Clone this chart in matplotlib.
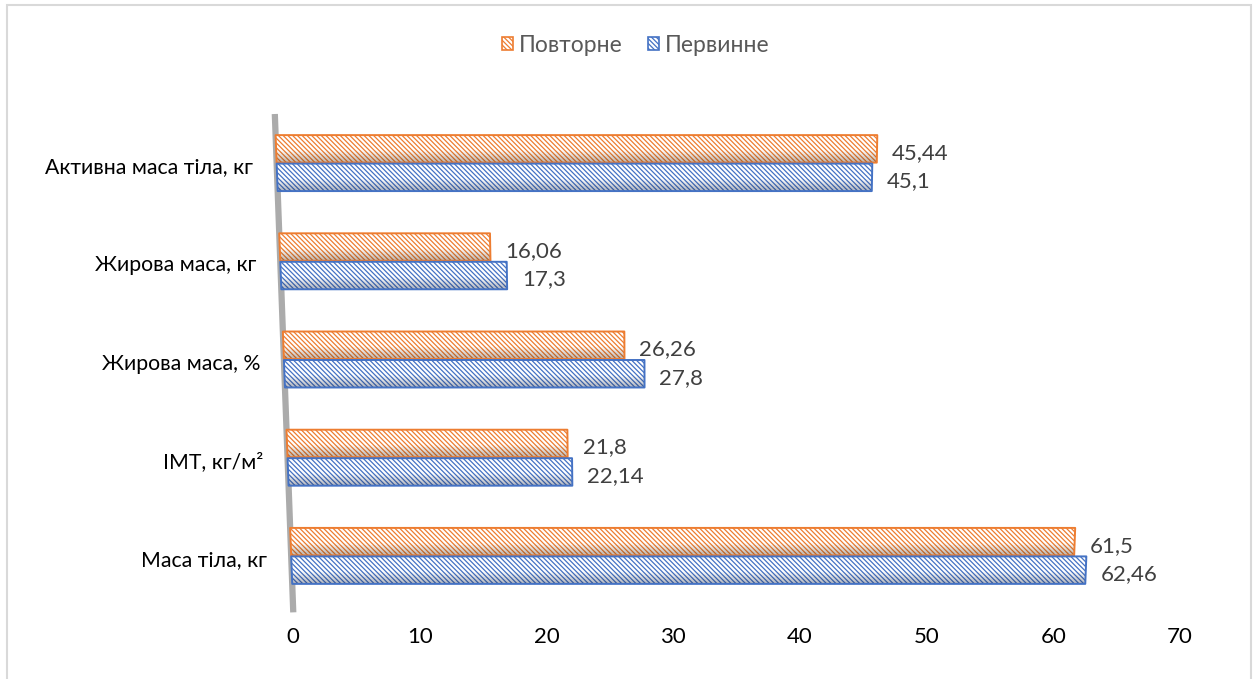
import numpy as np
import matplotlib
matplotlib.use("Agg")
import matplotlib.pyplot as plt
import matplotlib.transforms as mtransforms
from matplotlib.patches import Patch, Rectangle
from matplotlib.lines import Line2D

categories = ["Маса тіла, кг", "ІМТ, кг/м²", "Жирова маса, %", "Жирова маса, кг", "Активна маса тіла, кг"]
initial = [62.46, 22.14, 27.8, 17.3, 45.1]      # Первинне
repeat = [61.5, 21.8, 26.26, 16.06, 45.44]      # Повторне
initial_labels = ["62,46", "22,14", "27,8", "17,3", "45,1"]
repeat_labels = ["61,5", "21,8", "26,26", "16,06", "45,44"]
xticks = [0, 10, 20, 30, 40, 50, 60, 70]

ORANGE = "#ED7D31"
BLUE = "#4472C4"
FONT = "Lato"
HATCH = "\\" * 7

plt.rcParams["font.family"] = [FONT, "DejaVu Sans"]
plt.rcParams["hatch.linewidth"] = 0.9


class DepthWarp(mtransforms.Transform):
    """Perspective-like warp in axes fraction space: the back of the
    plot (top) is shifted left and slightly stretched."""
    input_dims = 2
    output_dims = 2
    is_separable = False
    has_inverse = False

    def __init__(self, shift_top, scale_top):
        super().__init__()
        self.shift_top = shift_top
        self.scale_top = scale_top

    def transform_non_affine(self, values):
        values = np.asarray(values, dtype=float)
        u, v = values[:, 0], values[:, 1]
        u2 = u * (1 + (self.scale_top - 1) * v) + self.shift_top * v
        return np.column_stack([u2, v])


fig = plt.figure(figsize=(12.56, 6.79), dpi=100)
ax = fig.add_axes([293 / 1256, 1 - 605 / 679, 887 / 1256, 491 / 679])
ax.set_xlim(0, 70)
ax.set_ylim(-0.5, len(categories) - 0.5)

warp = (ax.transData + ax.transAxes.inverted()
        + DepthWarp(-0.0205, 1.047) + ax.transAxes)
warp_axes = DepthWarp(-0.0205, 1.047) + ax.transAxes

# side wall
ax.add_line(Line2D([0.0, 0.0], [-0.015, 1.0], transform=warp_axes,
                   color="#ABABAB", lw=4.5, solid_capstyle="butt",
                   zorder=1, clip_on=False))

y = np.arange(len(categories))
h = 0.28
off = 0.145
n_strip = 16


def cylinder(ypos, values, color, shade):
    ax.barh(ypos, values, height=h, left=0, color="white", edgecolor=color,
            hatch=HATCH, linewidth=0, transform=warp, zorder=2,
            clip_on=False)
    # shading across the cylinder: light top, darker lower edge
    for k in range(n_strip):
        t = (k + 0.5) / n_strip            # 0 at bottom, 1 at top
        a = 0.38 * max(0.0, 0.45 - t) / 0.45
        if a <= 0.005:
            continue
        ax.barh(ypos - h / 2 + (k + 0.5) * h / n_strip, values,
                height=h / n_strip, left=0, color=shade, alpha=a,
                linewidth=0, transform=warp, zorder=3, clip_on=False)
    ax.barh(ypos, values, height=h, left=0, facecolor="none", edgecolor=color,
            linewidth=1.4, transform=warp, zorder=4, clip_on=False,
            joinstyle="round")


cylinder(y + off, repeat, ORANGE, "#4a2a12")
cylinder(y - off, initial, BLUE, "#1c2a4a")

for yi, v, lab in zip(y + off, repeat, repeat_labels):
    ax.annotate(lab, xy=(v, yi), xycoords=warp, xytext=(15, -4),
                textcoords="offset pixels", ha="left", va="center",
                fontsize=16, color="#404040")
for yi, v, lab in zip(y - off, initial, initial_labels):
    ax.annotate(lab, xy=(v, yi), xycoords=warp, xytext=(15, -4),
                textcoords="offset pixels", ha="left", va="center",
                fontsize=16, color="#404040")

for yi, cat in zip(y, categories):
    ax.annotate(cat, xy=(0, yi), xycoords=warp, xytext=(-24, -4),
                textcoords="offset pixels", ha="right", va="center",
                fontsize=15.3, color="black")

ax.set_yticks([])
ax.set_xticks(xticks)
ax.set_xticklabels([str(t) for t in xticks], fontsize=16, color="black")
ax.tick_params(axis="x", length=0, pad=16)
for s in ax.spines.values():
    s.set_visible(False)
ax.patch.set_alpha(0)

handles = [Patch(facecolor="white", edgecolor=ORANGE, hatch=HATCH, lw=1.2, label="Повторне"),
           Patch(facecolor="white", edgecolor=BLUE, hatch=HATCH, lw=1.2, label="Первинне")]
fig.legend(handles=handles, loc="center", bbox_to_anchor=(636 / 1256, 1 - 45 / 679),
           ncol=2, frameon=False, fontsize=16.5, handlelength=0.48,
           handleheight=0.48, handletextpad=0.25, columnspacing=1.1,
           labelcolor="#595959")

fig.add_artist(Rectangle((7 / 1256, -0.01), (1251 - 7) / 1256, 1.01 - 5 / 679,
                         transform=fig.transFigure, fill=False,
                         edgecolor="#D9D9D9", lw=1.5))

fig.savefig("out.png", dpi=100, facecolor="white")
